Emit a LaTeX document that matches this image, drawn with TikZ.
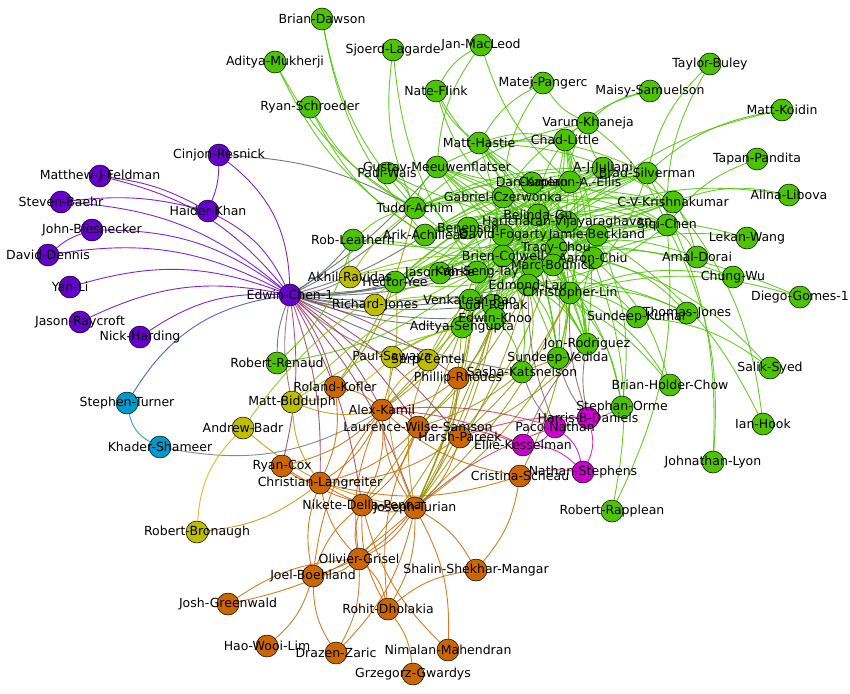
\documentclass[tikz,border=0pt]{standalone}
\usepackage{fontspec}
\setmainfont{DejaVu Sans}
\usetikzlibrary{calc}
\definecolor{pgreen}{RGB}{76,196,0}
\definecolor{ppurple}{RGB}{102,0,204}
\definecolor{porange}{RGB}{204,102,0}
\definecolor{polive}{RGB}{190,190,0}
\definecolor{pblue}{RGB}{0,153,204}
\definecolor{pmagenta}{RGB}{204,0,204}
\pgfdeclarelayer{links}
\pgfsetlayers{links,main}

\begin{document}
\begin{tikzpicture}[x=1pt,y=-1pt,
  person/.style={circle,draw=black,line width=0.5pt,fill=#1,minimum size=22pt,inner sep=0pt},
  who/.style={font=\fontsize{12.5}{14}\selectfont,inner sep=0pt,text=black},
  link/.style={draw=#1,line width=0.9pt,opacity=0.85}]
\useasboundingbox (0,0) rectangle (850,693);

% green people
\node[person=pgreen] (bdawson) at (322,19) {};
\node[person=pgreen] (slagarde) at (393,50) {};
\node[person=pgreen] (jmacleod) at (481,45) {};
\node[person=pgreen] (amukherji) at (275,62) {};
\node[person=pgreen] (nflink) at (436,91) {};
\node[person=pgreen] (mpangerc) at (543,83) {};
\node[person=pgreen] (rschroeder) at (310,107) {};
\node[person=pgreen] (tbuley) at (710,64) {};
\node[person=pgreen] (msamuelson) at (650,91) {};
\node[person=pgreen] (mkoidin) at (782,110) {};
\node[person=pgreen] (vkhaneja) at (588,123) {};
\node[person=pgreen] (clittle) at (565,140) {};
\node[person=pgreen] (mhastie) at (479,143) {};
\node[person=pgreen] (gmeeuw) at (437,167) {};
\node[person=pgreen] (pwais) at (387,173) {};
\node[person=pgreen] (tachim) at (415,208) {};
\node[person=pgreen] (rleathern) at (353,240) {};
\node[person=pgreen] (gczerwonka) at (503,197) {};
\node[person=pgreen] (dkaplan) at (532,183) {};
\node[person=pgreen] (cellis) at (570,182) {};
\node[person=pgreen] (ajuliani) at (603,168) {};
\node[person=pgreen] (bsilverman) at (647,173) {};
\node[person=pgreen] (cvk) at (673,202) {};
\node[person=pgreen] (schen) at (667,225) {};
\node[person=pgreen] (tpandita) at (757,159) {};
\node[person=pgreen] (alibova) at (789,195) {};
\node[person=pgreen] (lwang) at (747,238) {};
\node[person=pgreen] (adorai) at (697,257) {};
\node[person=pgreen] (cwu) at (733,277) {};
\node[person=pgreen] (bgu) at (538,215) {};
\node[person=pgreen] (hvijay) at (567,222) {};
\node[person=pgreen] (jbeckland) at (597,235) {};
\node[person=pgreen] (aachilleas) at (425,235) {};
\node[person=pgreen] (abenenson) at (468,228) {};
\node[person=pgreen] (dfogarty) at (503,235) {};
\node[person=pgreen] (tchou) at (556,248) {};
\node[person=pgreen] (bcolwell) at (503,256) {};
\node[person=pgreen] (achiu) at (593,258) {};
\node[person=pgreen] (xnode) at (533,267) {};
\node[person=pgreen] (mbodnick) at (553,265) {};
\node[person=pgreen] (kstay) at (477,272) {};
\node[person=pgreen] (jyorke) at (440,273) {};
\node[person=pgreen] (hyee) at (395,282) {};
\node[person=pgreen] (vrao) at (470,300) {};
\node[person=pgreen] (lrehak) at (493,305) {};
\node[person=pgreen] (ekhoo) at (495,318) {};
\node[person=pgreen] (asengupta) at (462,327) {};
\node[person=pgreen] (elau) at (528,285) {};
\node[person=pgreen] (clin) at (570,293) {};
\node[person=pgreen] (skumar) at (637,317) {};
\node[person=pgreen] (tjones) at (687,313) {};
\node[person=pgreen] (dgomes) at (800,297) {};
\node[person=pgreen] (jrodriguez) at (587,344) {};
\node[person=pgreen] (svedida) at (558,358) {};
\node[person=pgreen] (skatsnelson) at (522,372) {};
\node[person=pgreen] (bhchow) at (670,385) {};
\node[person=pgreen] (sorme) at (622,407) {};
\node[person=pgreen] (ssyed) at (770,368) {};
\node[person=pgreen] (ihook) at (763,424) {};
\node[person=pgreen] (jlyon) at (713,462) {};
\node[person=pgreen] (rrapplean) at (612,511) {};
\node[person=pgreen] (rrenaud) at (277,363) {};
% purple people
\node[person=ppurple] (crnesnick) at (219,155) {};
\node[person=ppurple] (mfeldman) at (100,176) {};
\node[person=ppurple] (sbaehr) at (61,202) {};
\node[person=ppurple] (hkhan) at (208,211) {};
\node[person=ppurple] (jbiesnecker) at (92,230) {};
\node[person=ppurple] (ddennis) at (48,255) {};
\node[person=ppurple] (yli) at (70,287) {};
\node[person=ppurple] (jraycroft) at (80,322) {};
\node[person=ppurple] (nharding) at (140,337) {};
\node[person=ppurple] (echen) at (290,295) {};
% blue people
\node[person=pblue] (sturner) at (127,403) {};
\node[person=pblue] (kshameer) at (160,447) {};
% olive people
\node[person=polive] (aravidas) at (350,277) {};
\node[person=polive] (rjones) at (375,305) {};
\node[person=polive] (psawaya) at (392,357) {};
\node[person=polive] (scentel) at (428,360) {};
\node[person=polive] (mbiddulph) at (292,402) {};
\node[person=polive] (abadr) at (243,428) {};
\node[person=polive] (rbronaugh) at (197,532) {};
% magenta people
\node[person=pmagenta] (hdaniels) at (588,418) {};
\node[person=pmagenta] (pnathan) at (555,427) {};
\node[person=pmagenta] (ekesselman) at (523,445) {};
\node[person=pmagenta] (nstephens) at (583,472) {};
% orange people
\node[person=porange] (prhodes) at (458,378) {};
\node[person=porange] (rkofler) at (335,387) {};
\node[person=porange] (akamil) at (382,410) {};
\node[person=porange] (lwsamson) at (418,427) {};
\node[person=porange] (hpareek) at (460,437) {};
\node[person=porange] (cscheau) at (520,476) {};
\node[person=porange] (rcox) at (282,466) {};
\node[person=porange] (clangreiter) at (320,483) {};
\node[person=porange] (ndpenna) at (362,505) {};
\node[person=porange] (jturian) at (415,508) {};
\node[person=porange] (ogrisel) at (359,559) {};
\node[person=porange] (jboehland) at (313,576) {};
\node[person=porange] (ssmangar) at (476,570) {};
\node[person=porange] (jgreenwald) at (228,604) {};
\node[person=porange] (rdholakia) at (388,609) {};
\node[person=porange] (hwlim) at (267,646) {};
\node[person=porange] (dzaric) at (336,653) {};
\node[person=porange] (nmahendran) at (448,650) {};
\node[person=porange] (ggwardys) at (413,674) {};

\begin{pgfonlayer}{links}
\fill[white] (0,0) rectangle (850,693);
% purple
\foreach \a in {mfeldman,sbaehr,jbiesnecker,ddennis,yli,jraycroft,nharding,hkhan}
  \draw[link=ppurple] (\a) to[bend left=18] (echen);
\draw[link=ppurple] (crnesnick) to[bend left=25] (echen);
\foreach \a in {crnesnick,mfeldman,sbaehr}
  \draw[link=ppurple] (\a) to[bend left=10] (hkhan);
\draw[link=ppurple] (ddennis) to[bend left=10] (jbiesnecker);
\draw[link=ppurple!50!pgreen] (crnesnick) to[bend left=12] (tachim);
% blue
\draw[link=ppurple!50!pblue] (echen) to[bend right=25] (sturner);
\draw[link=pblue] (sturner) to[bend right=25] (kshameer);
\draw[link=pblue!50!porange] (kshameer) to[bend right=20] (akamil);
% edwin chen
\foreach \b in {tachim,rleathern,aachilleas,hyee,kstay,jyorke,vrao,asengupta,ekhoo,bcolwell,elau,skatsnelson,gmeeuw,lrehak}
  \draw[link=ppurple!50!pgreen] (echen) to[bend right=8] (\b);
\foreach \b in {aravidas,rjones,psawaya,mbiddulph}
  \draw[link=ppurple!50!polive] (echen) to[bend right=10] (\b);
\foreach \b in {rcox,clangreiter,akamil,lwsamson,rkofler,hpareek,jturian,prhodes,ndpenna}
  \draw[link=ppurple!50!porange] (echen) to[bend left=10] (\b);
\draw[link=ppurple!50!pgreen] (echen) to[bend right=10] (rrenaud);
% green mesh
\foreach \a in {ajuliani,bsilverman,cvk,schen,cellis}
  \foreach \b in {tachim,aachilleas,hyee,kstay,vrao,asengupta,jyorke}
    \draw[link=pgreen] (\a) to[bend right=12] (\b);
\foreach \a in {gmeeuw,mhastie,gczerwonka,dkaplan,clittle}
  \foreach \b in {elau,clin,jrodriguez,svedida,ekhoo,tchou,achiu}
    \draw[link=pgreen] (\a) to[bend left=12] (\b);
\foreach \a/\b in {tachim/gmeeuw,tachim/gczerwonka,tachim/bgu,aachilleas/bgu,aachilleas/hvijay,aachilleas/jbeckland,
  aachilleas/dfogarty,abenenson/tchou,abenenson/achiu,dfogarty/achiu,bcolwell/jbeckland,bcolwell/hvijay,bgu/tchou,
  hvijay/achiu,kstay/tchou,kstay/jbeckland,kstay/mbodnick,hyee/bcolwell,hyee/mbodnick,vrao/tchou,vrao/achiu,
  vrao/hvijay,ekhoo/bgu,ekhoo/jbeckland,asengupta/bcolwell,asengupta/tchou,elau/bcolwell,clin/bcolwell,clin/hvijay,
  clin/bgu,jrodriguez/achiu,mbodnick/jbeckland,pwais/kstay,pwais/tachim,rleathern/tachim,rleathern/kstay,
  lrehak/jbeckland,lrehak/gczerwonka,gmeeuw/clittle,mhastie/bsilverman,mhastie/cvk,dkaplan/schen,gczerwonka/schen,
  bgu/cvk,vkhaneja/schen,xnode/hyee,xnode/tachim,jyorke/jbeckland,abenenson/hyee,dfogarty/clin,
  bsilverman/gmeeuw,schen/pwais,cvk/rleathern,ajuliani/bcolwell,bsilverman/clin,schen/elau}
  \draw[link=pgreen] (\a) to[bend left=14] (\b);
% green outskirts
\foreach \a/\b in {bdawson/tachim,bdawson/aachilleas,slagarde/tachim,slagarde/kstay,amukherji/aachilleas,amukherji/tachim,
  rschroeder/tachim,rschroeder/aachilleas,jmacleod/nflink,jmacleod/gmeeuw,jmacleod/cellis,nflink/mhastie,nflink/gczerwonka,
  nflink/dkaplan,mpangerc/mhastie,mpangerc/vkhaneja,mpangerc/gczerwonka,tbuley/bsilverman,tbuley/schen,msamuelson/vkhaneja,
  msamuelson/clittle,mkoidin/hvijay,mkoidin/bsilverman,vkhaneja/ajuliani,vkhaneja/cellis,vkhaneja/gczerwonka,
  vkhaneja/tachim,clittle/bgu,clittle/mhastie,tpandita/schen,alibova/cvk,alibova/hvijay,lwang/jbeckland,lwang/achiu,
  cwu/bcolwell,cwu/clin,adorai/schen,adorai/tchou,adorai/bsilverman,dgomes/clin,dgomes/bcolwell,tjones/achiu,
  tjones/clin,tjones/elau,skumar/clin,skumar/mbodnick,ssyed/achiu,ssyed/skumar,ihook/cvk,ihook/jbeckland,
  jlyon/bsilverman,jlyon/schen,rrapplean/schen,rrapplean/achiu,bhchow/achiu,bhchow/clin,bhchow/elau,sorme/jbeckland,
  sorme/clin,sorme/mbodnick,jrodriguez/clin,jrodriguez/elau,jrodriguez/bcolwell,jrodriguez/tchou,svedida/elau,
  svedida/tchou,skatsnelson/bcolwell,skatsnelson/elau,skatsnelson/ekhoo,rrenaud/rleathern,rrenaud/kstay}
  \draw[link=pgreen] (\a) to[bend right=15] (\b);
% orange
\foreach \a/\b in {jturian/ogrisel,jturian/rdholakia,jturian/jboehland,jturian/ndpenna,jturian/clangreiter,jturian/akamil,
  jturian/ssmangar,jturian/nmahendran,jturian/jgreenwald,jturian/dzaric,jturian/rcox,ogrisel/jboehland,ogrisel/rdholakia,
  ogrisel/dzaric,ogrisel/ndpenna,ogrisel/clangreiter,ogrisel/akamil,jboehland/hwlim,jboehland/clangreiter,
  jboehland/ndpenna,jboehland/akamil,rdholakia/ggwardys,rdholakia/ssmangar,rdholakia/ndpenna,rdholakia/lwsamson,
  cscheau/ssmangar,cscheau/akamil,akamil/clangreiter,akamil/rcox,akamil/lwsamson,akamil/ndpenna,rkofler/clangreiter,
  rkofler/akamil,lwsamson/clangreiter,lwsamson/ndpenna,hpareek/clangreiter,hpareek/jturian,prhodes/akamil,
  prhodes/jturian,dzaric/jboehland,nmahendran/ndpenna,jgreenwald/ogrisel,clangreiter/rcox,cscheau/clangreiter}
  \draw[link=porange] (\a) to[bend left=15] (\b);
\foreach \a/\b in {jturian/vrao,jturian/asengupta,jturian/ekhoo,jturian/bcolwell,jturian/elau,jturian/kstay,
  jturian/svedida,jturian/clin,akamil/asengupta,akamil/vrao,akamil/kstay,akamil/hyee,lwsamson/ekhoo,lwsamson/elau,
  lwsamson/skatsnelson,hpareek/clin,hpareek/jrodriguez,hpareek/tchou,prhodes/ekhoo,prhodes/vrao,prhodes/svedida,
  rkofler/hyee,rkofler/tachim,ndpenna/asengupta,ogrisel/ekhoo,cscheau/clin}
  \draw[link=porange!50!pgreen] (\a) to[bend right=10] (\b);
% olive
\foreach \a/\b in {aravidas/tachim,aravidas/kstay,aravidas/rleathern,aravidas/bcolwell,rjones/vrao,rjones/kstay,
  psawaya/ekhoo,psawaya/asengupta,scentel/vrao,scentel/elau,mbiddulph/kstay,mbiddulph/asengupta,abadr/hyee}
  \draw[link=polive!50!pgreen] (\a) to[bend left=10] (\b);
\foreach \a/\b in {psawaya/jturian,scentel/akamil,scentel/jturian,mbiddulph/clangreiter,mbiddulph/akamil,
  rbronaugh/clangreiter,abadr/jturian}
  \draw[link=polive!50!porange] (\a) to[bend right=15] (\b);
\foreach \a/\b in {abadr/rbronaugh,psawaya/scentel,mbiddulph/psawaya}
  \draw[link=polive] (\a) to[bend right=20] (\b);
% magenta
\foreach \a/\b in {pnathan/hdaniels,pnathan/ekesselman,ekesselman/nstephens,hdaniels/nstephens,pnathan/nstephens}
  \draw[link=pmagenta] (\a) to[bend left=20] (\b);
\foreach \a/\b in {ekesselman/lwsamson,ekesselman/akamil,pnathan/akamil,hdaniels/hpareek,nstephens/cscheau,pnathan/jturian}
  \draw[link=pmagenta!50!porange] (\a) to[bend right=10] (\b);
\foreach \a/\b in {hdaniels/jrodriguez,hdaniels/svedida,hdaniels/clin,pnathan/skatsnelson,pnathan/elau,
  ekesselman/jrodriguez,sorme/pnathan}
  \draw[link=pmagenta!50!pgreen] (\a) to[bend left=10] (\b);
\end{pgfonlayer}

% names
\node[who] (t1) at (bdawson) {Brian-Dawson};
\node[who] (t2) at (slagarde) {Sjoerd-Lagarde};
\node[who] (t3) at (jmacleod) {Jan-MacLeod};
\node[who] (t4) at (amukherji) {Aditya-Mukherji};
\node[who] (t5) at (nflink) {Nate-Flink};
\node[who] (t6) at (mpangerc) {Matej-Pangerc};
\node[who] (t7) at (rschroeder) {Ryan-Schroeder};
\node[who] (t8) at (tbuley) {Taylor-Buley};
\node[who] (t9) at (msamuelson) {Maisy-Samuelson};
\node[who] (t10) at (mkoidin) {Matt-Koidin};
\node[who] (t11) at (vkhaneja) {Varun-Khaneja};
\node[who] (t12) at (clittle) {Chad-Little};
\node[who] (t13) at (mhastie) {Matt-Hastie};
\node[who] (t14) at (gmeeuw) {Gustav-Meeuwenflatser};
\node[who] (t15) at (pwais) {Paul-Wais};
\node[who] (t16) at (tachim) {Tudor-Achim};
\node[who] (t17) at (rleathern) {Rob-Leathern};
\node[who] (t18) at (gczerwonka) {Gabriel-Czerwonka};
\node[who] (t19) at (dkaplan) {Dan-Kaplan};
\node[who] (t20) at (cellis) {Cameron-A.-Ellis};
\node[who] (t21) at (ajuliani) {A-J-Juliani};
\node[who] (t22) at (bsilverman) {Brad-Silverman};
\node[who] (t23) at (cvk) {C-V-Krishnakumar};
\node[who] (t24) at (schen) {Siqi-Chen};
\node[who] (t25) at (tpandita) {Tapan-Pandita};
\node[who] (t26) at (alibova) {Alina-Libova};
\node[who] (t27) at (lwang) {Lekan-Wang};
\node[who] (t28) at (adorai) {Amal-Dorai};
\node[who] (t29) at (cwu) {Chung-Wu};
\node[who] (t30) at (bgu) {Belinda-Gu};
\node[who] (t31) at (hvijay) {Haricharan-Vijayaraghavan};
\node[who] (t32) at (jbeckland) {Jamie-Beckland};
\node[who] (t33) at (aachilleas) {Arik-Achilleas};
\node[who] (t34) at (abenenson) {Benenson};
\node[who] (t35) at (dfogarty) {David-Fogarty};
\node[who] (t36) at (tchou) {Tracy-Chou};
\node[who] (t37) at (bcolwell) {Brien-Colwell};
\node[who] (t38) at (achiu) {Aaron-Chiu};
\node[who] (t39) at (mbodnick) {Marc-Bodnick};
\node[who] (t40) at (kstay) {Kah-Seng-Tay};
\node[who] (t41) at (jyorke) {Jason-Yorke};
\node[who] (t42) at (hyee) {Hector-Yee};
\node[who] (t43) at (vrao) {Venkatesh-Rao};
\node[who] (t44) at (lrehak) {Ludi-Rehak};
\node[who] (t45) at (ekhoo) {Edwin-Khoo};
\node[who] (t46) at (asengupta) {Aditya-Sengupta};
\node[who] (t47) at (elau) {Edmond-Lau};
\node[who] (t48) at (clin) {Christopher-Lin};
\node[who] (t49) at (skumar) {Sundeep-Kumar};
\node[who] (t50) at (tjones) {Thomas-Jones};
\node[who] (t51) at (dgomes) {Diego-Gomes-1};
\node[who] (t52) at (jrodriguez) {Jon-Rodriguez};
\node[who] (t53) at (svedida) {Sundeep-Vedida};
\node[who] (t54) at (skatsnelson) {Sasha-Katsnelson};
\node[who] (t55) at (bhchow) {Brian-Holder-Chow};
\node[who] (t56) at (sorme) {Stephan-Orme};
\node[who] (t57) at (ssyed) {Salik-Syed};
\node[who] (t58) at (ihook) {Ian-Hook};
\node[who] (t59) at (jlyon) {Johnathan-Lyon};
\node[who] (t60) at (rrapplean) {Robert-Rapplean};
\node[who] (t61) at (rrenaud) {Robert-Renaud};
\node[who] (t62) at (crnesnick) {Cinjon-Resnick};
\node[who] (t63) at (mfeldman) {Matthew-J-Feldman};
\node[who] (t64) at (sbaehr) {Steven-Baehr};
\node[who] (t65) at (hkhan) {Haider-Khan};
\node[who] (t66) at (jbiesnecker) {John-Biesnecker};
\node[who] (t67) at (ddennis) {David-Dennis};
\node[who] (t68) at (yli) {Yan-Li};
\node[who] (t69) at (jraycroft) {Jason-Raycroft};
\node[who] (t70) at (nharding) {Nick-Harding};
\node[who] (t71) at (echen) {Edwin-Chen-1};
\node[who] (t72) at (sturner) {Stephen-Turner};
\node[who] (t73) at (kshameer) {Khader-Shameer};
\node[who] (t74) at (aravidas) {Akhil-Ravidas};
\node[who] (t75) at (rjones) {Richard-Jones};
\node[who] (t76) at (psawaya) {Paul-Sawaya};
\node[who] (t77) at (scentel) {Sarp-Centel};
\node[who] (t78) at (mbiddulph) {Matt-Biddulph};
\node[who] (t79) at (abadr) {Andrew-Badr};
\node[who] (t80) at (rbronaugh) {Robert-Bronaugh};
\node[who] (t81) at (hdaniels) {Harris-B-Daniels};
\node[who] (t82) at (pnathan) {Paco-Nathan};
\node[who] (t83) at (ekesselman) {Ellie-Kesselman};
\node[who] (t84) at (nstephens) {Nathan-Stephens};
\node[who] (t85) at (prhodes) {Phillip-Rhodes};
\node[who] (t86) at (rkofler) {Roland-Kofler};
\node[who] (t87) at (akamil) {Alex-Kamil};
\node[who] (t88) at (lwsamson) {Laurence-Wilse-Samson};
\node[who] (t89) at (hpareek) {Harsh-Pareek};
\node[who] (t90) at (cscheau) {Cristina-Scheau};
\node[who] (t91) at (rcox) {Ryan-Cox};
\node[who] (t92) at (clangreiter) {Christian-Langreiter};
\node[who] (t93) at (ndpenna) {Nikete-Della-Penna};
\node[who] (t94) at (jturian) {Joseph-Turian};
\node[who] (t95) at (ogrisel) {Olivier-Grisel};
\node[who] (t96) at (jboehland) {Joel-Boehland};
\node[who] (t97) at (ssmangar) {Shalin-Shekhar-Mangar};
\node[who] (t98) at (jgreenwald) {Josh-Greenwald};
\node[who] (t99) at (rdholakia) {Rohit-Dholakia};
\node[who] (t100) at (hwlim) {Hao-Wooi-Lim};
\node[who] (t101) at (dzaric) {Drazen-Zaric};
\node[who] (t102) at (nmahendran) {Nimalan-Mahendran};
\node[who] (t103) at (ggwardys) {Grzegorz-Gwardys};
\end{tikzpicture}
\end{document}
